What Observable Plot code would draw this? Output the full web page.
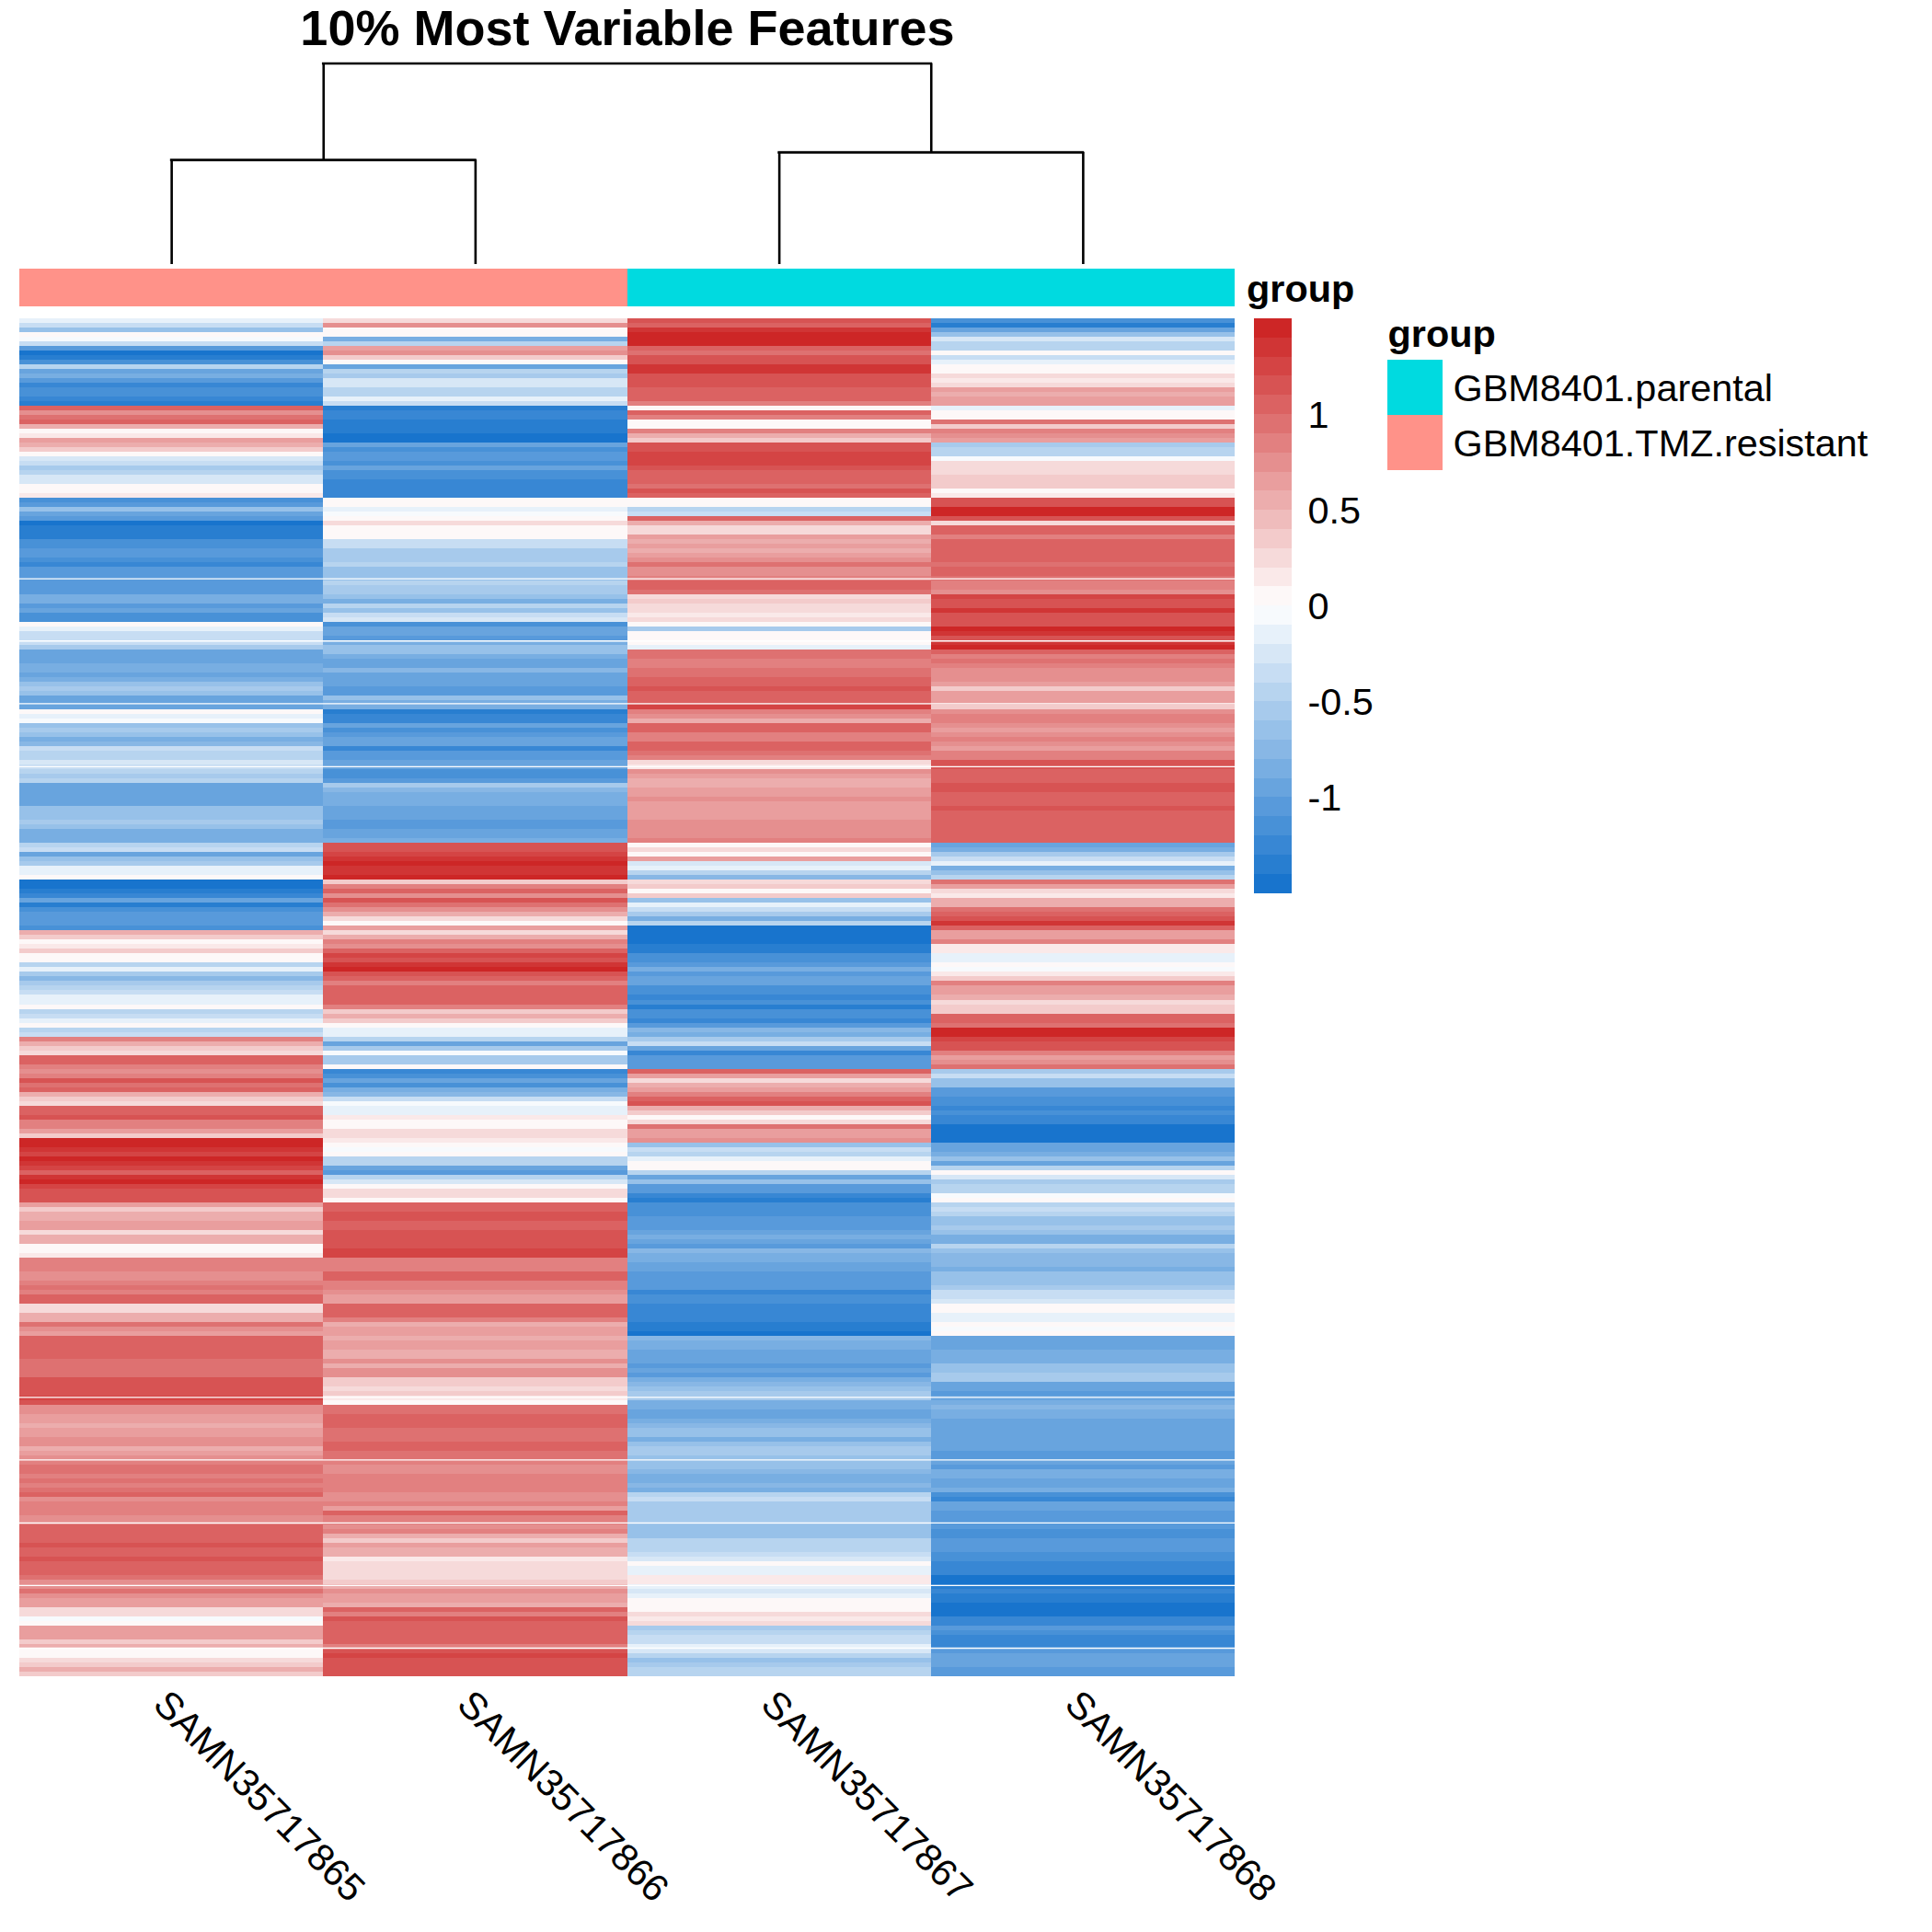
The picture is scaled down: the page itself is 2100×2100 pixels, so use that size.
<!DOCTYPE html>
<html>
<head>
<meta charset="utf-8">
<script src="https://cdn.jsdelivr.net/npm/d3@7"></script>
<script src="https://cdn.jsdelivr.net/npm/@observablehq/plot@0.6"></script>
<style>
html,body{margin:0;padding:0;background:#fff}
#page{position:relative;width:2100px;height:2100px;background:#fff;overflow:hidden}
#page>div,#page>svg{position:absolute}
#title{left:0;width:1364px;top:1px;text-align:center;font:bold 54px "Liberation Sans",Arial,sans-serif;line-height:58px;color:#000}
svg{overflow:visible;background:transparent !important}
</style>
</head>
<body>
<div id="page"><div id="title">10% Most Variable Features</div></div>
<script>
const sampleNames = ["SAMN35717865","SAMN35717866","SAMN35717867","SAMN35717868"];
const groupNames = ["GBM8401.parental","GBM8401.TMZ.resistant"];
const groupColors = ["#00DAE0","#FF9289"];
const sampleGroups = ["GBM8401.TMZ.resistant","GBM8401.TMZ.resistant","GBM8401.parental","GBM8401.parental"];
const heatTicks = [-1,-0.5,0,0.5,1];
const rampStops = ["#1874CD","#FFFFFF","#CD2626"];
// merge: the two child positions (in sample widths), child heights and the merge height
const dendroLeft = [0.5,2.5,1];
const dendroRight = [1.5,3.5,3];
const dendroLeftH = [0,0,0.52];
const dendroRightH = [0,0,0.558];
const dendroH = [0.52,0.558,1];
// fractional row positions of the thin white seams in the heatmap
const seamRows = [56.5,70,83.6,97.3,234.3,247.9,261.6,275.2,288.8];

const col1 = [
-0.1,-0.3,-0.7,0,-0.05,-0.3,-1.1,-1.45,-1.35,-1.2,-0.5,-0.9,-0.8,-1.1,-1.25,-1.2,-1.2,-1.3,-1.35,1.05,0.8,0.95,1,0.55,0.1,0.15,0.7,0.5,0.4,0,-0.25,-0.35,-0.55,-0.45,-0.2,-0.2,0,
0,0.15,-1.2,-1.1,-0.7,-0.9,-1.1,-1.45,-1.4,-1.35,-1.4,-1.2,-1.2,-1.05,-1.05,-1.15,-1.25,-1.05,-1.05,-1.05,-1.1,-1.1,-1.05,-0.85,-0.85,-1.05,-0.95,-1.2,-1.15,0,-0.1,-0.35,-0.3,-0.35,-0.6,-0.9,-0.9,
-0.95,-0.85,-0.85,-1,-0.8,-0.7,-0.6,-0.7,-1,-0.95,-0.95,0,-0.15,-0.05,-0.65,-0.6,-0.65,-0.8,-0.75,-0.35,-0.4,-0.45,-0.25,-0.35,-0.45,-0.55,-0.5,-0.95,-0.95,-0.9,-1,-0.95,-0.65,-0.7,-0.7,-0.6,-0.7,
-0.8,-0.8,-0.8,-0.45,-0.3,-0.95,-0.7,-0.6,-0.1,-0.1,0,-1.45,-1.45,-1.35,-1.3,-0.9,-1.35,-1.15,-1.1,-1.05,-1.1,-1.2,0.5,0.4,0.02,0.2,0.35,0.02,0.03,-0.4,-0.15,-0.6,-0.75,-0.6,-0.4,-0.3,-0.1,
-0.1,0.05,-0.5,-0.3,-0.15,0,-0.5,-0.3,0.85,0.5,0.35,0.25,1.05,1,0.85,0.8,0.85,1.1,0.95,1.05,0.55,0.4,0.25,1.05,1.05,1.15,0.9,0.85,0.7,0.35,1.45,1.45,1.4,1.3,1.45,1.35,1.3,
1.05,1.35,1.45,1.3,1.2,1.1,1.1,0.7,0.4,0.55,0.55,0.65,0.65,0.3,0.5,0.55,0.1,0.05,0.15,0.85,0.85,0.85,0.8,0.75,0.85,0.95,0.9,1.05,1.05,0.3,0.3,0.5,0.55,0.95,0.75,0.65,1.05,
1.05,1,1.05,1.05,0.95,0.95,0.95,0.95,1.15,1.1,1.2,1.15,1.25,1.2,0.8,0.75,0.65,0.7,0.55,0.7,0.7,0.75,0.75,0.55,0.7,0.75,0.85,0.95,0.95,0.9,0.95,0.9,0.95,1,0.8,0.9,0.9,
0.85,0.75,0.8,1.05,1.05,1.05,1.05,1.2,1.05,1.05,1.2,1.05,1.05,1.05,0.95,0.8,0.75,0.95,0.8,0.7,0.7,0.3,0.3,-0.05,0,0.7,0.65,0.7,0.4,0.55,0.1,0.02,0.25,0.4,0.5,0.35];
const col2 = [
0.25,0.8,0.05,0.1,-0.8,-0.5,0.7,0.8,0.35,0.05,-0.95,-0.5,-0.6,-0.25,-0.25,-0.4,-0.5,-0.1,-0.3,-1.35,-1.3,-1.3,-1.35,-1.4,-1.4,-1.45,-1.45,-1,-1.15,-1.1,-1.05,-1.15,-1,-1.2,-1.2,-1.25,-1.3,
-1.3,-1.3,0.1,0,-0.15,-0.05,0,0.25,0.05,0.05,0,-0.3,-0.35,-0.55,-0.55,-0.55,-0.4,-0.7,-0.7,-0.7,-0.5,-0.6,-0.6,-0.65,-0.8,-0.45,-0.65,-0.3,-0.25,-1.2,-0.95,-1,-1.05,-0.8,-0.7,-0.65,-0.8,
-0.95,-0.95,-0.75,-0.9,-0.95,-1,-1.1,-1.05,-0.65,-0.85,-0.85,-1.4,-1.3,-1.3,-1,-1.15,-1.1,-0.95,-1,-1.25,-1.1,-1.05,-0.95,-1,-1.15,-1.15,-1.05,-0.6,-0.75,-0.8,-0.8,-0.8,-0.95,-1,-0.95,-1.1,-1.05,
-0.95,-0.95,-0.8,1.2,1.2,1.3,1.4,1.45,1.4,1.4,1.45,0.4,0.85,1.05,0.8,1.1,0.95,0.8,0.55,0.25,0.1,0.7,0.25,0.5,0.85,0.8,1.05,1.25,1.1,1.35,1.45,1.15,1,0.9,1.05,1.05,1.05,
1.05,0.9,0.35,0.5,0.4,0.05,-0.1,-0.1,-0.5,-1,-0.6,-0.05,-0.6,-0.55,0.1,-1.25,-1.2,-1,-1.15,-0.8,-0.75,-0.3,-0.05,-0.1,-0.15,0.15,0.1,0.1,0.3,0.25,0.2,0.02,-0.02,0,-0.4,-0.5,-0.9,
-1.1,-0.4,-0.2,0,0.25,0.3,0.03,1.05,1.05,1.1,1.1,1.05,1.05,1.2,1.15,1.1,1.15,1.3,1.3,0.9,0.9,0.9,1,1,0.9,0.85,0.8,0.7,0.65,1,1.05,1.05,0.9,0.5,0.65,0.65,0.55,
0.65,0.7,0.55,0.55,0.8,0.55,0.75,0.75,0.35,0.4,0.25,0.35,0.15,0.1,0.95,0.95,1.05,1.05,1.05,0.95,0.95,0.95,1,1.05,0.95,0.95,0.85,0.8,0.75,0.9,0.9,0.9,0.9,0.75,0.8,0.85,0.7,
1,0.9,0.9,0.75,0.85,0.55,0.4,0.65,0.55,0.55,0.15,0.3,0.3,0.25,0.25,0.35,0.55,0.8,0.7,0.65,0.5,1.05,0.9,1.2,1,1,1,1.05,1.05,0.85,1.15,1.3,1.2,1.15,1.1,1.1];
const col3 = [
1.1,1,1.35,1.45,1.45,1.45,1,0.95,1.1,1.2,1.4,1.4,1.2,1.2,1.2,1.05,1.05,1.05,0.9,0.1,1,0.9,0.05,0.1,0.85,0.55,0.35,1.1,1.2,1.3,1.3,1.3,1.2,1.05,1.05,1.05,0.95,
1.15,1.05,0.02,0.05,-0.5,-0.3,1,0.55,0.3,0.3,0.65,0.55,0.65,0.55,0.7,0.8,0.95,0.8,0.75,0.85,1.05,1,0.95,0.3,0.35,0.3,0.25,0.15,0.3,0.1,-0.55,0.05,0.1,0,-0.15,0.95,0.95,
0.85,0.85,0.95,0.95,1.05,1.05,1.1,1.05,1.05,1.05,1.25,0.85,0.75,0.55,1,1,0.9,0.9,1.05,1.05,0.95,0.9,0.3,0.15,0.75,0.7,0.5,0.5,0.65,0.7,0.8,0.65,0.65,0.65,0.7,0.8,0.8,
0.8,0.8,0.9,0.1,0.3,0,0.65,-0.25,-0.1,-0.4,-0.75,0.25,0.35,0.05,0.4,-0.7,-0.15,-0.35,-0.6,-0.8,-0.5,-1.45,-1.45,-1.45,-1.45,-1.4,-1.4,-1.2,-1.2,-1.05,-0.8,-1.1,-0.95,-0.9,-1.15,-1.2,-1.3,
-1.2,-1.35,-1.15,-1.2,-1.25,-1.1,-0.75,-0.85,-0.6,-0.35,-0.9,-1.25,-1.1,-1.1,-1.1,1.05,0.7,0.3,0.55,0.65,0.85,1.05,1.1,0.5,0.4,0.05,0.3,0.95,0.65,0.7,0.75,-0.65,-0.3,-0.4,-0.1,0.05,0.05,
-0.4,-0.95,-0.7,-1.05,-1.1,-1.3,-1.4,-1.2,-1.2,-1.15,-1.05,-1.05,-1.05,-0.95,-0.8,-0.95,-1.1,-0.75,-0.8,-0.85,-0.95,-1,-1.05,-1.1,-1.05,-1.05,-1.25,-1.2,-1.2,-1.3,-1.3,-1.25,-1.25,-1.35,-1.35,-1.45,-0.75,
-0.8,-0.85,-0.95,-0.9,-0.9,-1.05,-0.9,-1.05,-0.85,-0.75,-0.65,-0.55,-0.6,-0.8,-0.8,-0.95,-0.95,-0.85,-0.75,-0.7,-0.7,-0.8,-0.65,-0.6,-0.6,-0.65,-0.7,-0.7,-0.75,-0.8,-0.8,-0.75,-0.8,-0.4,-0.35,-0.55,-0.55,
-0.55,-0.6,-0.55,-0.7,-0.7,-0.65,-0.4,-0.5,-0.45,-0.3,-0.2,0,-0.1,-0.1,0.15,0.2,-0.1,-0.25,-0.15,0.02,0.05,0.1,0.25,0.2,0.3,-0.6,-0.45,-0.35,-0.3,-0.1,-0.2,-0.4,-0.65,-0.6,-0.5,-0.5];
const col4 = [
-1.2,-1.35,-0.9,-0.7,-0.2,-0.4,-0.4,0.1,-0.3,-0.1,0.02,0.05,0.3,0.15,0.3,0.7,0.55,0.65,0.7,-0.1,0.05,0.1,0.95,0.4,0.9,0.8,0.7,-0.55,-0.4,-0.5,-0.05,0.3,0.3,0.3,0.35,0.4,0.35,
0,0.2,1.15,1.1,1.45,1.45,1.2,0.3,1.05,1,0.9,1.05,1.05,1.05,1.05,1.05,0.95,1.05,1,0.95,0.85,0.85,0.8,1.3,1.2,1.2,1.35,1.2,1.15,1.2,1.45,1.4,1.2,1.4,1.45,1,0.9,
0.95,0.85,0.75,0.75,0.75,0.7,0.35,0.65,0.65,0.7,0.4,0.75,0.85,0.9,0.8,0.7,0.8,0.85,0.8,0.65,0.9,0.85,1.2,1.1,1.05,1.05,1.05,1.15,1.2,1.05,1.05,1.05,1.2,1.05,1.05,1.05,1.05,
1.05,1.05,1.05,-0.95,-0.8,-0.6,-0.3,-0.1,-0.8,-0.7,-0.5,0.95,0.65,0.3,0.2,0.5,0.55,0.95,1.05,1.2,1.35,1,0.65,0.65,0.85,0.15,0.2,-0.15,-0.1,0,-0.05,0.2,0.35,0.85,0.65,0.65,0.55,
0.3,0.35,0.4,1.05,1.05,0.95,1.45,1.45,1.3,1.2,1.15,0.85,0.7,0.75,0.95,-0.55,-0.3,-0.7,-0.65,-1.05,-1.05,-1.15,-1.2,-1.25,-1.2,-1.25,-1.3,-1.45,-1.45,-1.45,-1.45,-0.95,-0.9,-0.85,-0.7,-1,-0.4,
0,-0.2,-0.6,-0.4,-0.45,-0.05,0.1,-0.45,-0.35,-0.5,-0.7,-0.65,-0.6,-0.7,-0.85,-0.85,-0.4,-0.65,-0.75,-0.75,-0.75,-0.8,-0.7,-0.65,-0.65,-0.55,-0.35,-0.3,-0.25,0,0.02,-0.15,-0.1,0,-0.05,0.1,-1,
-0.95,-0.9,-0.8,-0.8,-0.85,-0.7,-0.65,-0.55,-0.6,-0.9,-1,-1.05,-0.95,-0.8,-0.75,-0.8,-0.85,-0.9,-0.95,-0.95,-0.95,-0.95,-1,-1,-1.05,-1.05,-0.95,-1.05,-0.85,-0.85,-0.95,-0.95,-0.85,-1.2,-1.25,-1,-1,
-1.1,-1.05,-1.1,-1.1,-1.15,-1.15,-1.1,-1.1,-1.1,-1.15,-1.2,-1.25,-1.3,-1.25,-1.45,-1.45,-1.4,-1.3,-1.35,-1.4,-1.45,-1.45,-1.45,-1.3,-1.3,-1.1,-1.15,-1.25,-1.25,-1.3,-1.05,-1,-1,-0.95,-1.05,-1.05];

const font = '"Liberation Sans",Arial,sans-serif';
const fs = 41.4;
const page = document.getElementById("page");
const place = (el,left,top) => {el.style.left = left+"px"; el.style.top = top+"px"; page.appendChild(el);};

const ramp = d3.piecewise(d3.interpolateRgb, rampStops);
const stepColors = d3.range(30).map(i => ramp(i/29));
const stepEdges = d3.range(1,30).map(i => -1.5 + i*0.1);
const heatColor = {type:"threshold", domain:stepEdges, range:stepColors};
const groupColor = {type:"ordinal", domain:groupNames, range:groupColors};

const columns = [col1,col2,col3,col4];
const nRows = col1.length;
if (columns.some(c => c.length !== nRows)) throw new Error("lengths "+columns.map(c=>c.length));
const cells = columns.flatMap((c,j) => c.map((v,i) => ({col:j,row:i,v})));

const W = 1321, H = 1476, L = 20.5, T = 346;
const xCols = {domain:[0,4], range:[0,W]};

// dendrogram
place(Plot.plot({
  width:W, height:220, margin:0, marginTop:1.5, marginBottom:0,
  x:{...xCols, axis:null}, y:{domain:[0,1], range:[218.5+1.5,1.5], axis:null},
  marks:[
    Plot.ruleY(dendroH.map((h,i)=>i),{y:i=>dendroH[i],x1:i=>dendroLeft[i],x2:i=>dendroRight[i],stroke:"#000",strokeWidth:2.6,strokeLinecap:"square"}),
    Plot.ruleX(dendroH.map((h,i)=>i),{x:i=>dendroLeft[i],y1:i=>dendroLeftH[i],y2:i=>dendroH[i],stroke:"#000",strokeWidth:2.6}),
    Plot.ruleX(dendroH.map((h,i)=>i),{x:i=>dendroRight[i],y1:i=>dendroRightH[i],y2:i=>dendroH[i],stroke:"#000",strokeWidth:2.6})
  ]
}),L,67);

// annotation bar
place(Plot.plot({
  width:W+200, height:41, margin:0, marginRight:200,
  x:{...xCols, axis:null}, y:{domain:[0,1], range:[41,0], axis:null},
  color:groupColor,
  marks:[
    Plot.rectY(sampleGroups.map((g,i)=>({g,i})),{x1:d=>d.i,x2:d=>d.i+1,y1:0,y2:1,fill:d=>d.g,shapeRendering:"crispEdges"}),
    Plot.text(["group"],{x:4,y:0.5,text:d=>d,dx:12.5,dy:1.5,textAnchor:"start",fontFamily:font,fontSize:fs,fontWeight:"bold",fill:"#000"})
  ]
}),L,292);

// heatmap and sample labels
place(Plot.plot({
  width:W, height:H, margin:0,
  x:{...xCols, axis:null}, y:{domain:[0,nRows], range:[0,H], axis:null},
  color:heatColor,
  marks:[
    Plot.rect(cells,{x1:d=>d.col,x2:d=>d.col+1,y1:d=>d.row,y2:d=>d.row+1,fill:d=>d.v,shapeRendering:"crispEdges"}),
    Plot.ruleY(seamRows,{stroke:"#fff",strokeWidth:1.3}),
    Plot.text(sampleNames,{x:(d,i)=>i+0.5,y:nRows,text:d=>d,rotate:45,textAnchor:"start",dy:23,dx:-12.5,fontFamily:font,fontSize:fs,fill:"#000"})
  ]
}),L,T);

// colour bar
const barW = 41, barH = 624.5;
place(Plot.plot({
  width:barW+130, height:barH, margin:0, marginRight:130,
  x:{domain:[0,1],range:[0,barW],axis:null}, y:{domain:[1.5,-1.5],range:[0,barH],axis:null},
  color:heatColor,
  marks:[
    Plot.rect(stepColors.map((c,i)=>i),{x1:0,x2:1,y1:i=>-1.5+i*0.1,y2:i=>-1.4+i*0.1,fill:i=>-1.45+i*0.1,shapeRendering:"crispEdges"}),
    Plot.text(heatTicks,{x:1,y:d=>d,text:d=>String(d),dx:17,dy:1.3,textAnchor:"start",fontFamily:font,fontSize:fs,fill:"#000"})
  ]
}),1363,346);

// group legend
place(Plot.plot({
  width:592, height:171, margin:0, marginTop:51, marginRight:532,
  x:{domain:[0,1],range:[0,60],axis:null},
  y:{type:"band",domain:groupNames,range:[51,171],padding:0,axis:null},
  color:groupColor,
  marks:[
    Plot.barX(groupNames,{x1:0,x2:1,y:d=>d,fill:d=>d,shapeRendering:"crispEdges"}),
    Plot.text(groupNames,{x:1,y:d=>d,text:d=>d,dx:11,dy:1.3,textAnchor:"start",fontFamily:font,fontSize:fs,fill:"#000"}),
    Plot.text(["group"],{x:0,frameAnchor:"top-left",text:d=>d,dy:-44,fontFamily:font,fontSize:fs,fontWeight:"bold",fill:"#000",textAnchor:"start",lineAnchor:"top"})
  ]
}),1508,340);
</script>
</body>
</html>
